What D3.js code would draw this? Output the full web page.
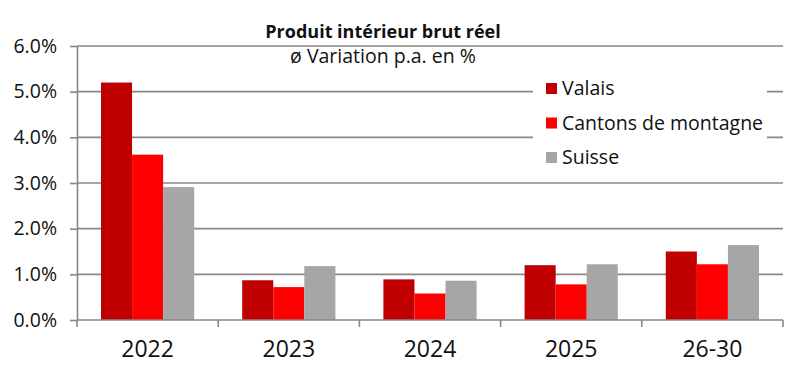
<!DOCTYPE html>
<html>
<head>
<meta charset="utf-8">
<script src="https://cdn.jsdelivr.net/npm/d3@7"></script>
<style>
  body { margin: 0; background: #fff; }
</style>
</head>
<body>
<div id="chart"></div>
<script>
// data
const categories = ["2022", "2023", "2024", "2025", "26-30"];
const seriesNames = ["Valais", "Cantons de montagne", "Suisse"];
const valais = [5.20, 0.87, 0.89, 1.20, 1.50];
const cantons = [3.62, 0.72, 0.58, 0.78, 1.22];
const suisse = [2.91, 1.18, 0.86, 1.22, 1.64];
const yTicks = [0, 1, 2, 3, 4, 5, 6];
const colors = ["#c00000", "#ff0000", "#a6a6a6"];

const title = "Produit intérieur brut réel";
const subtitle = "ø Variation p.a. en %";

function loadChart() {
  let svgWidth = 801;
  let svgHeight = 372;
  let margin = { top: 46, right: 18, bottom: 52, left: 77 };
  let width = svgWidth - margin.left - margin.right;
  let height = svgHeight - margin.top - margin.bottom;
  let gridColor = "#878787";
  let font = "'Open Sans', sans-serif";
  let textColor = "#111";

  let svg = d3.select("#chart").append("svg")
    .attr("width", svgWidth)
    .attr("height", svgHeight);

  let chartGroup = svg.append("g")
    .attr("transform", `translate(${margin.left}, ${margin.top})`);

  let series = [valais, cantons, suisse];
  let rows = categories.map((c, i) => ({
    cat: c,
    values: series.map((s, j) => ({ key: seriesNames[j], value: s[i] }))
  }));

  // scales
  let x0 = d3.scaleBand()
    .domain(categories)
    .range([0, width])
    .paddingInner(0.34)
    .paddingOuter(0.17);

  let x1 = d3.scaleBand()
    .domain(seriesNames)
    .range([0, x0.bandwidth()]);

  let yScale = d3.scaleLinear()
    .domain([0, 6])
    .range([height, 0]);

  let color = d3.scaleOrdinal().domain(seriesNames).range(colors);

  // gridlines
  chartGroup.append("g").selectAll("line")
    .data(yTicks.filter(d => d > 0))
    .enter()
    .append("line")
    .attr("x1", 0)
    .attr("x2", width)
    .attr("y1", d => yScale(d))
    .attr("y2", d => yScale(d))
    .attr("stroke", gridColor)
    .attr("stroke-width", 1.6);

  // bars
  let groups = chartGroup.append("g").selectAll("g")
    .data(rows)
    .enter()
    .append("g")
    .attr("transform", d => `translate(${x0(d.cat)}, 0)`);

  groups.selectAll("rect")
    .data(d => d.values)
    .enter()
    .append("rect")
    .attr("x", d => x1(d.key))
    .attr("width", x1.bandwidth())
    .attr("y", d => yScale(d.value))
    .attr("height", d => height - yScale(d.value))
    .attr("fill", d => color(d.key));

  // y axis
  let yAxis = d3.axisLeft(yScale)
    .tickValues(yTicks)
    .tickSize(7)
    .tickSizeOuter(0)
    .tickPadding(13)
    .tickFormat(d => d.toFixed(1) + "%");

  let yg = chartGroup.append("g").call(yAxis);
  yg.select(".domain").attr("stroke", gridColor).attr("stroke-width", 1.6);
  yg.selectAll(".tick line").attr("stroke", gridColor).attr("stroke-width", 1.6);
  yg.selectAll("text")
    .attr("font-family", font)
    .attr("font-size", "19.5px")
    .attr("fill", textColor);

  // x axis
  let xAxis = d3.axisBottom(x0)
    .tickSize(0)
    .tickPadding(21);

  let xg = chartGroup.append("g")
    .attr("transform", `translate(0, ${height})`)
    .call(xAxis);
  xg.select(".domain").remove();
  xg.selectAll("text")
    .attr("font-family", font)
    .attr("font-size", "23px")
    .attr("fill", textColor);

  chartGroup.append("line")
    .attr("x1", 0)
    .attr("x2", width)
    .attr("y1", height)
    .attr("y2", height)
    .attr("stroke", gridColor)
    .attr("stroke-width", 1.6);

  // category separator ticks
  let edges = categories.map(c => x0(c) - x0.step() * x0.paddingOuter());
  edges.push(width);
  chartGroup.append("g").selectAll("line")
    .data(edges)
    .enter()
    .append("line")
    .attr("x1", d => d)
    .attr("x2", d => d)
    .attr("y1", height)
    .attr("y2", height + 7)
    .attr("stroke", gridColor)
    .attr("stroke-width", 1.6);

  // title
  svg.append("text")
    .attr("x", 383)
    .attr("y", 38)
    .attr("text-anchor", "middle")
    .attr("font-family", font)
    .attr("font-weight", "bold")
    .attr("font-size", "18px")
    .attr("fill", textColor)
    .text(title);

  svg.append("text")
    .attr("x", 383)
    .attr("y", 63)
    .attr("text-anchor", "middle")
    .attr("font-family", font)
    .attr("font-size", "19.5px")
    .attr("fill", textColor)
    .text(subtitle);

  // legend
  let legend = svg.append("g").attr("transform", "translate(533, 70)");
  legend.append("rect")
    .attr("width", 234)
    .attr("height", 104)
    .attr("fill", "#fff");

  let items = legend.selectAll(".item")
    .data(seriesNames)
    .enter()
    .append("g")
    .attr("class", "item")
    .attr("transform", (d, i) => `translate(13, ${18.5 + i * 34.5})`);

  items.append("rect")
    .attr("x", 0)
    .attr("y", -5.5)
    .attr("width", 11)
    .attr("height", 11)
    .attr("fill", d => color(d));

  items.append("text")
    .attr("x", 16)
    .attr("y", 0)
    .attr("dy", "0.35em")
    .attr("font-family", font)
    .attr("font-size", "19.5px")
    .attr("fill", textColor)
    .text(d => d);
}

loadChart();
</script>
</body>
</html>
